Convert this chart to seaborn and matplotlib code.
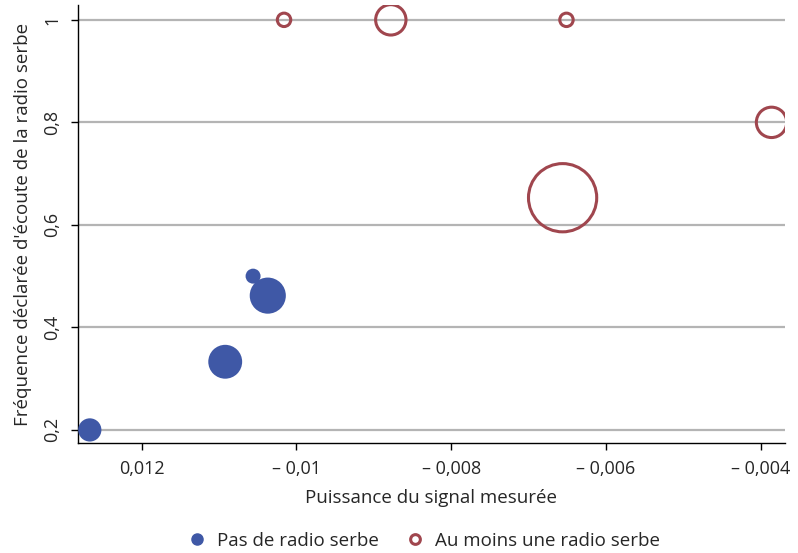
import pandas as pd
import seaborn as sns
import matplotlib.pyplot as plt
from matplotlib.lines import Line2D

# Data read off the reference (x = measured signal strength, y = listening frequency,
# poids = bubble weight, proportional to marker area)
x_pas = [-0.01267, -0.01092, -0.01056, -0.01037]
y_pas = [0.2, 0.333, 0.5, 0.462]
poids_pas = [2.4, 5.1, 1.0, 5.8]

x_serbe = [-0.01016, -0.00878, -0.00651, -0.00386, -0.00656]
y_serbe = [1.0, 1.0, 1.0, 0.8, 0.653]
poids_serbe = [0.8, 4.1, 0.8, 4.1, 20.7]

x_ticks = [-0.012, -0.010, -0.008, -0.006, -0.004]
x_labels = ["0,012", "\u2013 0,01", "\u2013 0,008", "\u2013 0,006", "\u2013 0,004"]
y_ticks = [0.2, 0.4, 0.6, 0.8, 1.0]
y_labels = ["0,2", "0,4", "0,6", "0,8", "1"]

BLUE = "#3f58a6"
RED = "#a0464e"

sns.set_style("white")
plt.rcParams['font.family'] = ['Open Sans', 'DejaVu Sans']

df_pas = pd.DataFrame({"x": x_pas, "y": y_pas, "poids": poids_pas})
df_serbe = pd.DataFrame({"x": x_serbe, "y": y_serbe, "poids": poids_serbe})

w_max = max(poids_pas + poids_serbe)
s_unit = 116.6  # points^2 per unit of weight
size_kw = dict(sizes=(0, s_unit * w_max), size_norm=(0, w_max))

fig = plt.figure(figsize=(7.98, 5.53), dpi=100)
ax = fig.add_axes([0.0977, 0.199, 0.886, 0.792])

ax.grid(axis="y", color="#b4b4b4", linewidth=1.6)
ax.set_axisbelow(True)

sns.scatterplot(data=df_pas, x="x", y="y", size="poids", color=BLUE,
                edgecolor=BLUE, linewidth=0, legend=False, ax=ax, zorder=3,
                **size_kw)
sns.scatterplot(data=df_serbe, x="x", y="y", size="poids", color=RED,
                facecolor="none", edgecolor=RED, linewidth=2.2, legend=False,
                ax=ax, zorder=3, **size_kw)

ax.set_xlim(-0.012823, -0.003686)
ax.set_ylim(0.1746, 1.029)
ax.set_xticks(x_ticks, x_labels)
ax.set_yticks(y_ticks, y_labels)
ax.tick_params(axis="both", direction="out", length=5, width=1, color="black",
               labelsize=13, pad=7, bottom=True, left=True)
plt.setp(ax.get_yticklabels(), rotation=90, va="center")

for side in ["top", "right"]:
    ax.spines[side].set_visible(False)
for side in ["left", "bottom"]:
    ax.spines[side].set_color("black")
    ax.spines[side].set_linewidth(1)

ax.set_xlabel("Puissance du signal mesurée", fontsize=13.5, labelpad=8)
ax.set_ylabel("Fréquence déclarée d'écoute de la radio serbe", fontsize=13.5,
              labelpad=8)

handles = [
    Line2D([], [], linestyle="none", marker="o", markersize=8,
           markerfacecolor=BLUE, markeredgecolor=BLUE),
    Line2D([], [], linestyle="none", marker="o", markersize=7,
           markerfacecolor="none", markeredgecolor=RED, markeredgewidth=2.2),
]
fig.legend(handles, ["Pas de radio serbe", "Au moins une radio serbe"],
           loc="center", bbox_to_anchor=(0.528, 0.022), ncol=2, frameon=False,
           fontsize=13.5, handletextpad=0.3, handlelength=1.5,
           columnspacing=1.2)

fig.savefig("out.png", dpi=100)
